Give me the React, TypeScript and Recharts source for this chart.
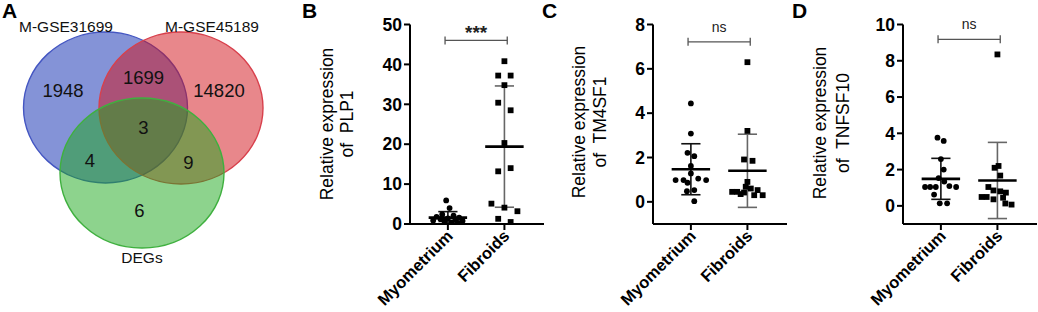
import React from 'react';
import { ScatterChart, Scatter, XAxis, YAxis, ReferenceLine } from 'recharts';

const FONT = '"Liberation Sans", Arial, Helvetica, sans-serif';

// ---------- Venn data ----------
const vennSetNames = ['M-GSE31699', 'M-GSE45189', 'DEGs'];
const vennRegionNames = ['GSE31699 only', 'GSE31699∩GSE45189', 'GSE45189 only', 'all', 'GSE31699∩DEGs', 'GSE45189∩DEGs', 'DEGs only'];
const vennRegionCounts = [1948, 1699, 14820, 3, 4, 9, 6];

// ---------- Dot plot data ----------
const categories = ['Myometrium', 'Fibroids'];

const plp1Myometrium = [5.9, 4.0, 2.4, 2.1, 1.8, 1.6, 1.4, 1.2, 1.0, 0.9, 0.8, 0.6, 0.4, 0.3];
const plp1MyometriumJitter = [-0.03, 0.03, -0.1, 0.1, -0.2, 0.2, 0, -0.13, 0.13, -0.26, 0.26, -0.06, 0.06, 0.18];
const plp1Fibroids = [40.8, 37.2, 37.2, 34.8, 30.4, 28.5, 20.3, 13.2, 14.0, 5.1, 4.1, 3.2, 1.3, 0.5];
const plp1FibroidsJitter = [0, -0.11, 0.11, 0, -0.11, 0.11, 0, -0.11, 0.11, -0.23, 0, 0.23, -0.11, 0.11];
const plp1Mean = [1.6, 19.4];
const plp1Sd = [1.5, 15.2];
const plp1Ticks = [0, 10, 20, 30, 40, 50];

const tm4Myometrium = [4.44, 3.08, 2.21, 2.06, 1.62, 1.28, 0.98, 0.98, 1.05, 0.98, 0.86, 0.48, 0.53, 0.03];
const tm4MyometriumJitter = [0, 0, -0.06, 0.06, 0, 0, -0.27, -0.13, 0.13, 0.27, -0.06, -0.07, 0.06, 0.06];
const tm4Fibroids = [6.3, 3.2, 1.91, 1.85, 0.9, 0.68, 0.6, 0.45, 0.45, 0.35, 0.53, 0.3, 0.3, 0.42];
const tm4FibroidsJitter = [0, 0, -0.06, 0.09, 0, -0.03, 0.06, -0.27, -0.18, -0.12, 0.18, 0.12, 0.27, -0.06];
const tm4Mean = [1.47, 1.4];
const tm4Sd = [1.15, 1.65];
const tm4Ticks = [0, 2, 4, 6, 8];

const tnfMyometrium = [3.76, 3.58, 2.58, 2.0, 1.53, 1.34, 1.04, 1.04, 1.04, 1.09, 1.04, 0.62, 0.14, 0.14];
const tnfMyometriumJitter = [-0.06, 0.05, 0, 0.05, -0.04, 0.06, -0.28, -0.19, -0.09, 0.15, 0.27, -0.12, -0.02, 0.11];
const tnfFibroids = [8.35, 2.2, 2.1, 1.67, 1.04, 0.85, 0.8, 0.73, 0.49, 0.49, 0.36, 0.45, 0.13, 0.07];
const tnfFibroidsJitter = [0, 0.02, -0.05, 0.05, -0.16, -0.07, 0.05, 0.15, -0.28, -0.19, -0.07, 0.1, 0.14, 0.25];
const tnfMean = [1.49, 1.4];
const tnfSd = [1.13, 2.1];
const tnfTicks = [0, 2, 4, 6, 8, 10];

const geneNames = ['PLP1', 'TM4SF1', 'TNFSF10'];
const sigLabels = ['***', 'ns', 'ns'];
const sigLevels = [46, 7.22, 9.18];

// ---------- layout (not data) ----------
const vennLayout = [
  { px: 105.5, py: 107.5, rx: 82, ry: 75.5, fill: '#0a28b0', stroke: '#4456c2' },
  { px: 181, py: 108, rx: 82, ry: 76, fill: '#d10f18', stroke: '#d8404c' },
  { px: 142, py: 173, rx: 82, ry: 75, fill: '#1ba71b', stroke: '#3fb03f' },
];
const vennSetLabelPos = [
  { px: 66, py: 32 },
  { px: 212, py: 32 },
  { px: 142, py: 263 },
];
const vennCountPos = [
  { px: 63, py: 97 },
  { px: 143.5, py: 84 },
  { px: 219, py: 97 },
  { px: 143.5, py: 133.5 },
  { px: 90, py: 167 },
  { px: 188.5, py: 169 },
  { px: 139.5, py: 217 },
];

const EllipseShape = (props: any) => {
  const { cx, cy, payload } = props;
  return (
    <ellipse cx={cx} cy={cy} rx={payload.rx} ry={payload.ry} fill={payload.fill} fillOpacity={0.5}
      stroke={payload.stroke} strokeWidth={1.4} />
  );
};

const makeTextShape = (size: number) => (props: any) => {
  const { cx, cy, payload } = props;
  return (
    <text x={cx} y={cy} textAnchor="middle" fontSize={size} fontFamily={FONT} fill="#111">{payload.text}</text>
  );
};
const SetLabelShape = makeTextShape(15.5);
const CountShape = makeTextShape(18.5);

function Venn() {
  const sets = vennLayout.map((l, i) => ({ ...l, name: vennSetNames[i] }));
  const setLabels = vennSetNames.map((n, i) => ({ ...vennSetLabelPos[i], text: n }));
  const counts = vennRegionCounts.map((c, i) => ({ ...vennCountPos[i], text: String(c), region: vennRegionNames[i] }));
  return (
    <div style={{ position: 'absolute', left: 0, top: 0 }}>
      <ScatterChart width={290} height={312} margin={{ top: 0, right: 0, bottom: 0, left: 0 }}>
        <XAxis type="number" dataKey="px" domain={[0, 290]} hide />
        <YAxis type="number" dataKey="py" domain={[0, 312]} reversed hide />
        <Scatter data={sets} shape={EllipseShape} isAnimationActive={false} />
        <Scatter data={setLabels} shape={SetLabelShape} isAnimationActive={false} />
        <Scatter data={counts} shape={CountShape} isAnimationActive={false} />
      </ScatterChart>
    </div>
  );
}

// ---------- dot plot panels ----------
const XTick = (props: any) => {
  const { x, y, payload } = props;
  const label = categories[Math.round(payload.value) - 1];
  const ax = x + 6;
  const ay = y + 5;
  return (
    <text x={ax} y={ay} transform={`rotate(-45, ${ax}, ${ay})`} textAnchor="end" fontSize={16.5}
      fontWeight="bold" fontFamily={FONT} fill="#000">{label}</text>
  );
};

const circleShape = (props: any) => <circle cx={props.cx} cy={props.cy} r={2.9} fill="#000" />;
const squareShape = (props: any) => <rect x={props.cx - 2.9} y={props.cy - 2.9} width={5.8} height={5.8} fill="#000" />;

const makeBracket = (label: string, big: boolean) => (p: any) => {
  const { x1, y1, x2 } = p;
  return (
    <g>
      <line x1={x1} y1={y1} x2={x2} y2={y1} stroke="#555" strokeWidth={1.3} />
      <line x1={x1} y1={y1 - 4} x2={x1} y2={y1 + 4} stroke="#555" strokeWidth={1.3} />
      <line x1={x2} y1={y1 - 4} x2={x2} y2={y1 + 4} stroke="#555" strokeWidth={1.3} />
      <text x={(x1 + x2) / 2} y={big ? y1 - 1 : y1 - 10} textAnchor="middle" fontSize={big ? 19 : 14}
        fontWeight={big ? 'bold' : 'normal'} fontFamily={FONT} fill="#222">{label}</text>
    </g>
  );
};

type PanelProps = {
  left: number;
  myo: number[]; myoJ: number[]; fib: number[]; fibJ: number[];
  mean: number[]; sd: number[];
  yDomain: [number, number]; yTicks: number[];
  sig: string; sigY: number;
};

function DotPanel({ left, myo, myoJ, fib, fibJ, mean, sd, yDomain, yTicks, sig, sigY }: PanelProps) {
  const myoData = myo.map((v, i) => ({ x: 1 + myoJ[i], y: v }));
  const fibData = fib.map((v, i) => ({ x: 2 + fibJ[i], y: v }));
  const summary: any[] = [];
  [0, 1].forEach((i) => {
    const c = i + 1;
    const col = i === 0 ? '#111' : '#666';
    const lo = mean[i] - sd[i];
    const hi = mean[i] + sd[i];
    summary.push(<ReferenceLine key={`v${i}`} segment={[{ x: c, y: lo }, { x: c, y: hi }]} stroke={col} strokeWidth={1.6} ifOverflow="visible" />);
    summary.push(<ReferenceLine key={`h${i}`} segment={[{ x: c - 0.17, y: hi }, { x: c + 0.17, y: hi }]} stroke={col} strokeWidth={1.6} ifOverflow="visible" />);
    summary.push(<ReferenceLine key={`l${i}`} segment={[{ x: c - 0.17, y: lo }, { x: c + 0.17, y: lo }]} stroke={col} strokeWidth={1.6} ifOverflow="visible" />);
    summary.push(<ReferenceLine key={`m${i}`} segment={[{ x: c - 0.34, y: mean[i] }, { x: c + 0.34, y: mean[i] }]} stroke="#000" strokeWidth={2.6} ifOverflow="visible" />);
  });
  return (
    <div style={{ position: 'absolute', left, top: 0 }}>
      <ScatterChart width={255} height={312} margin={{ top: 24.5, right: 1, bottom: 0, left: 0 }}>
        <XAxis type="number" dataKey="x" domain={[0.33, 2.7]} ticks={[1, 2]} allowDataOverflow interval={0}
          height={88} tickSize={6} tick={<XTick />}
          axisLine={{ stroke: '#000', strokeWidth: 2 }} tickLine={{ stroke: '#000', strokeWidth: 2 }} />
        <YAxis type="number" dataKey="y" domain={yDomain} ticks={yTicks} allowDataOverflow interval={0}
          width={120} tickSize={6}
          tick={{ fill: '#000', fontSize: 17.5, fontWeight: 'bold', fontFamily: FONT }}
          axisLine={{ stroke: '#000', strokeWidth: 2 }} tickLine={{ stroke: '#000', strokeWidth: 2 }} />
        <Scatter data={myoData} shape={circleShape} isAnimationActive={false} />
        <Scatter data={fibData} shape={squareShape} isAnimationActive={false} />
        {summary}
        <ReferenceLine segment={[{ x: 0.95, y: sigY }, { x: 2.05, y: sigY }]} ifOverflow="visible"
          shape={makeBracket(sig, sig === '***')} />
      </ScatterChart>
    </div>
  );
}

const panelLetters = [
  { t: 'A', x: 2 },
  { t: 'B', x: 302 },
  { t: 'C', x: 542 },
  { t: 'D', x: 792 },
];
const yTitleLayout = [
  { x1: 332.5, x2: 353, cy: 124 },
  { x1: 585, x2: 606, cy: 122 },
  { x1: 826, x2: 849, cy: 123 },
];

export default function App() {
  return (
    <div style={{ position: 'absolute', left: 0, top: 0, width: 1038, height: 312, background: '#fff', overflow: 'hidden' }}>
      <Venn />
      <DotPanel left={290} myo={plp1Myometrium} myoJ={plp1MyometriumJitter} fib={plp1Fibroids} fibJ={plp1FibroidsJitter}
        mean={plp1Mean} sd={plp1Sd} yDomain={[0, 50]} yTicks={plp1Ticks} sig={sigLabels[0]} sigY={sigLevels[0]} />
      <DotPanel left={533} myo={tm4Myometrium} myoJ={tm4MyometriumJitter} fib={tm4Fibroids} fibJ={tm4FibroidsJitter}
        mean={tm4Mean} sd={tm4Sd} yDomain={[-1, 8]} yTicks={tm4Ticks} sig={sigLabels[1]} sigY={sigLevels[1]} />
      <DotPanel left={783} myo={tnfMyometrium} myoJ={tnfMyometriumJitter} fib={tnfFibroids} fibJ={tnfFibroidsJitter}
        mean={tnfMean} sd={tnfSd} yDomain={[-1, 10]} yTicks={tnfTicks} sig={sigLabels[2]} sigY={sigLevels[2]} />
      <svg width={1038} height={312} style={{ position: 'absolute', left: 0, top: 0, pointerEvents: 'none' }}>
        {panelLetters.map((p) => (
          <text key={p.t} x={p.x} y={18} fontSize={21} fontWeight="bold" fontFamily={FONT} fill="#000">{p.t}</text>
        ))}
        {yTitleLayout.map((l, i) => (
          <g key={i} fontFamily={FONT} fontSize={17.5} fill="#000" textAnchor="middle">
            <text x={l.x1} y={l.cy} transform={`rotate(-90, ${l.x1}, ${l.cy})`}>Relative expression</text>
            <text x={l.x2} y={l.cy} transform={`rotate(-90, ${l.x2}, ${l.cy})`} style={{ whiteSpace: 'pre' }}>{`of  ${geneNames[i]}`}</text>
          </g>
        ))}
      </svg>
    </div>
  );
}
